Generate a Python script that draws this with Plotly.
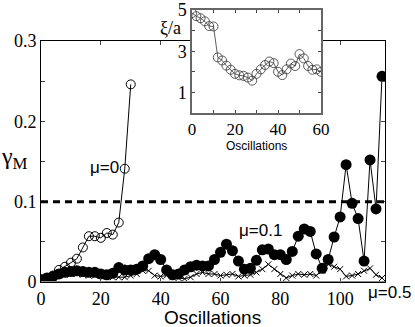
import plotly.graph_objects as go

# --- data ---
osc = list(range(0, 116, 2))  # 0..114, every 2 oscillations

gamma_mu0 = [0.002, 0.005, 0.008, 0.015, 0.019, 0.024, 0.029, 0.043, 0.057, 0.057,
             0.055, 0.061, 0.059, 0.074, 0.141, 0.246]

gamma_mu01 = [0.003, 0.005, 0.007, 0.010, 0.012, 0.013, 0.014, 0.013, 0.012, 0.012,
              0.010, 0.009, 0.011, 0.018, 0.015, 0.015, 0.016, 0.020, 0.029, 0.034,
              0.028, 0.015, 0.009, 0.010, 0.015, 0.019, 0.021, 0.020, 0.020, 0.028,
              0.037, 0.047, 0.039, 0.026, 0.016, 0.017, 0.027, 0.040, 0.041, 0.034,
              0.034, 0.028, 0.038, 0.057, 0.066, 0.063, 0.035, 0.017, 0.028, 0.056,
              0.081, 0.146, 0.098, 0.079, 0.026, 0.152, 0.091, 0.256]

gamma_mu05 = [0.002, 0.004, 0.006, 0.008, 0.009, 0.010, 0.010, 0.009, 0.008, 0.008,
              0.008, 0.007, 0.006, 0.006, 0.006, 0.008, 0.010, 0.014, 0.014, 0.008,
              0.007, 0.008, 0.006, 0.005, 0.004, 0.006, 0.010, 0.012, 0.010, 0.010,
              0.008, 0.009, 0.010, 0.007, 0.008, 0.009, 0.012, 0.016, 0.022, 0.016,
              0.010, 0.005, 0.008, 0.010, 0.009, 0.010, 0.008, 0.014, 0.022, 0.019,
              0.016, 0.007, 0.008, 0.010, 0.014, 0.017, 0.009, 0.005]

THRESHOLD = 0.1

inset_osc = list(range(0, 62, 2))
xi_a = [4.85, 4.7, 4.6, 4.45, 4.22, 4.2, 2.7, 2.55, 2.3, 2.1, 1.9, 1.83, 1.8, 1.72,
        1.57, 1.9, 2.12, 2.33, 2.5, 2.42, 2.0, 1.84, 2.12, 2.4, 2.28, 2.86, 2.65,
        2.28, 2.1, 2.12, 2.0]

main_y_ticks = [0, 0.05, 0.1, 0.15, 0.2, 0.25, 0.3]
main_y_text = ["0", "", "0.1", "", "0.2", "", "0.3"]
main_x_ticks = [0, 20, 40, 60, 80, 100]
inset_x_ticks = [0, 10, 20, 30, 40, 50, 60]
inset_x_text = ["0", "", "20", "", "40", "", "60"]
inset_y_ticks = [0, 1, 2, 3, 4, 5]
inset_y_text = ["", "1", "", "3", "", "5"]

W, H = 415, 327
SERIF = "'Liberation Serif', 'DejaVu Serif', serif"
SANS = "'Liberation Sans', Arial, sans-serif"

fig = go.Figure()

fig.add_trace(go.Scatter(
    x=osc[:len(gamma_mu0)], y=gamma_mu0, mode="lines+markers",
    line=dict(color="black", width=1),
    marker=dict(symbol="circle-open", size=9, color="black", line=dict(width=1))))
fig.add_trace(go.Scatter(
    x=osc, y=gamma_mu05, mode="lines+markers",
    line=dict(color="black", width=1),
    marker=dict(symbol="x-thin-open", size=6, color="black", line=dict(width=1))))
fig.add_trace(go.Scatter(
    x=osc, y=gamma_mu01, mode="lines+markers",
    line=dict(color="black", width=1),
    marker=dict(symbol="circle", size=11, color="black")))

# inset
fig.add_trace(go.Scatter(
    x=inset_osc, y=xi_a, mode="lines+markers", xaxis="x2", yaxis="y2",
    line=dict(color="#333", width=0.8),
    marker=dict(symbol="circle-open", size=9, color="#333", line=dict(width=0.8))))

fig.add_hline(y=THRESHOLD, line=dict(color="black", width=3, dash="7px,5px"))

# gray bottom axis line as in the reference
fig.add_shape(type="line", xref="x domain", yref="y", x0=0, x1=1, y0=0, y1=0,
              line=dict(color="#8c8c8c", width=2), layer="above")

axis_common = dict(ticks="inside", showline=True, mirror="ticks", showgrid=False,
                   zeroline=False, automargin=False,
                   tickfont=dict(family=SERIF, size=18, color="black"))

fig.update_layout(
    width=W, height=H, margin=dict(l=0, r=0, t=0, b=0, autoexpand=False),
    paper_bgcolor="white", plot_bgcolor="white", showlegend=False,
    xaxis=dict(domain=[41 / W, 385 / W], range=[0, 115], tickvals=main_x_ticks,
               ticklen=4, linecolor="black", linewidth=1, **axis_common),
    yaxis=dict(domain=[1 - 282 / H, 1 - 41 / H], range=[0, 0.3], tickvals=main_y_ticks,
               ticktext=main_y_text, ticklen=4, linecolor="black", linewidth=1,
               **axis_common),
    xaxis2=dict(domain=[192 / W, 321 / W], range=[0, 60], anchor="y2",
                tickvals=inset_x_ticks, ticktext=inset_x_text, ticklen=3,
                linecolor="#666", linewidth=1.5, **axis_common),
    yaxis2=dict(domain=[1 - 113 / H, 1 - 10 / H], range=[0, 5], anchor="x2",
                tickvals=inset_y_ticks, ticktext=inset_y_text, ticklen=3,
                linecolor="#666", linewidth=1.5, **axis_common),
)
fig.update_xaxes(tickfont_size=17, selector=dict(anchor="y2"))

ann = [
    dict(x=14 / W, y=1 - 158 / H, text="γ<sub>M</sub>", font=dict(family=SERIF, size=24)),
    dict(x=212 / W, y=1 - 317 / H, text="Oscillations", font=dict(family=SANS, size=19)),
    dict(x=256 / W, y=1 - 146 / H, text="Oscillations", font=dict(family=SANS, size=12)),
    dict(x=170 / W, y=1 - 28 / H, text="ξ/a", font=dict(family=SERIF, size=18)),
    dict(x=104 / W, y=1 - 167 / H, text="μ=0", font=dict(family=SANS, size=17)),
    dict(x=260 / W, y=1 - 230 / H, text="μ=0.1", font=dict(family=SANS, size=17)),
    dict(x=389 / W, y=1 - 292 / H, text="μ=0.5", font=dict(family=SANS, size=17)),
]
for a in ann:
    a["font"]["color"] = "black"
    fig.add_annotation(xref="paper", yref="paper", showarrow=False,
                       xanchor="center", yanchor="middle", **a)

# the page body has a default 8px margin; drop it so the figure fills the window
fig.write_html("out.html", config={"displayModeBar": False},
               post_script="document.body.style.margin='0';")
